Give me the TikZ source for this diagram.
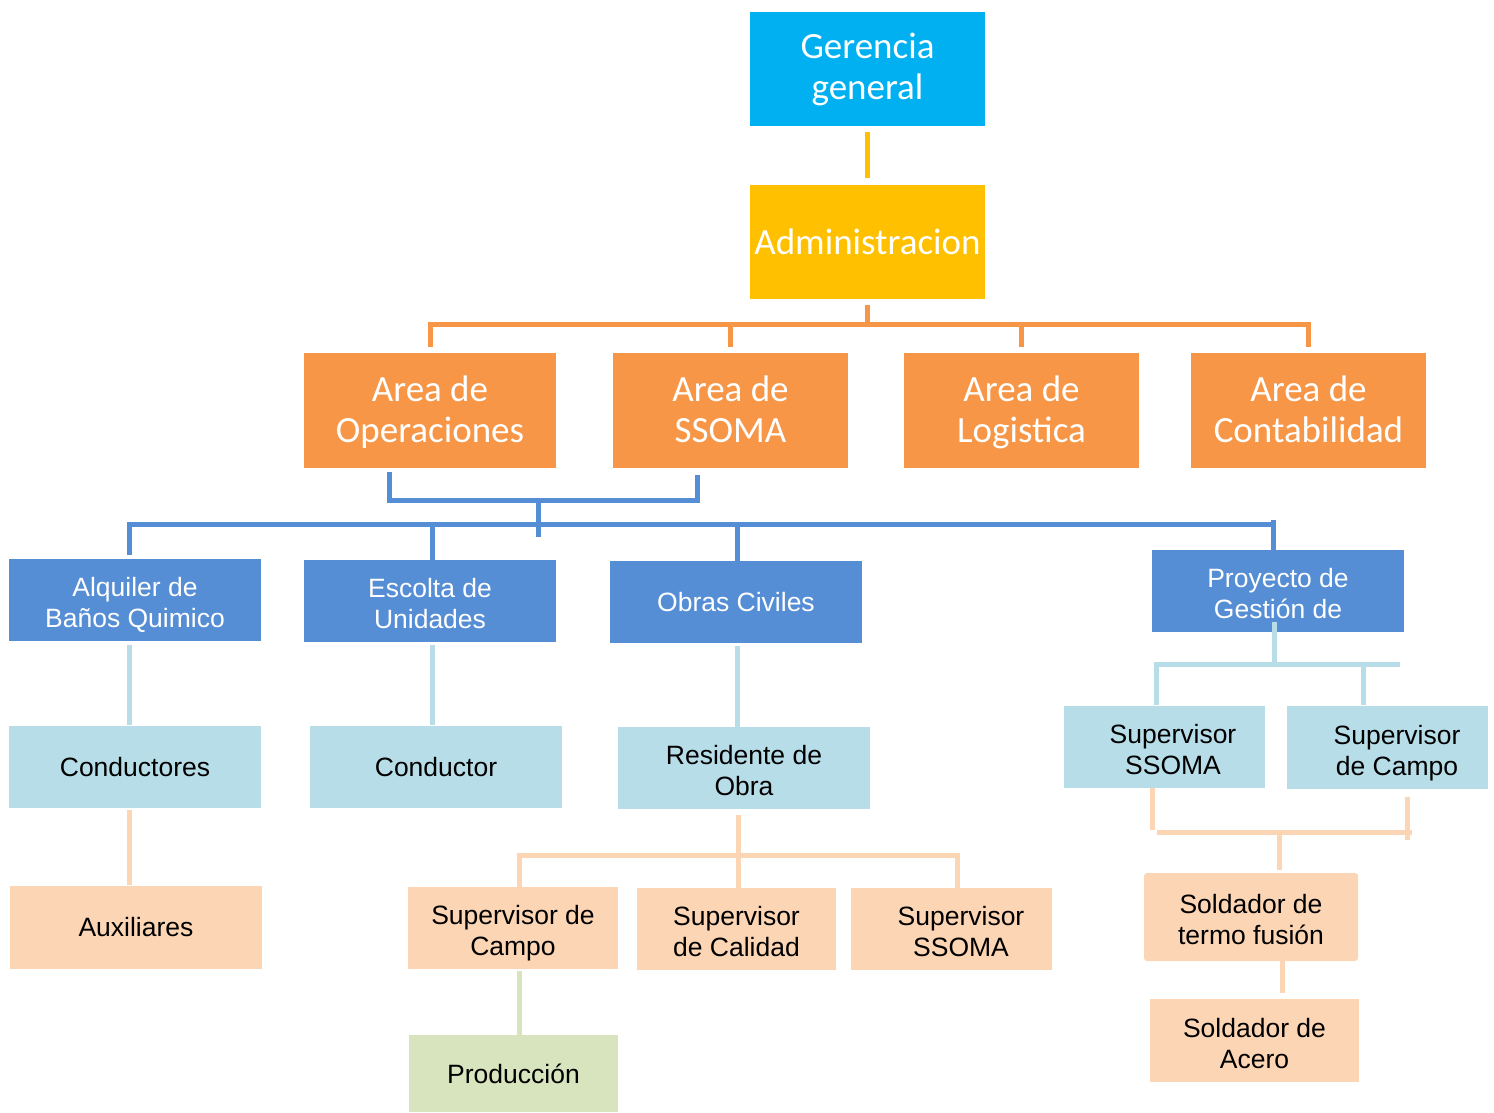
\documentclass[tikz,border=0pt]{standalone}
\usepackage{fontspec}
\setmainfont{Liberation Sans}
\newfontfamily\calfont{Carlito}
\usetikzlibrary{calc}
\definecolor{cgg}{HTML}{00B0F0}
\definecolor{cadm}{HTML}{FFC000}
\definecolor{corg}{HTML}{F79646}
\definecolor{cblu}{HTML}{558ED5}
\definecolor{clbl}{HTML}{B7DEE8}
\definecolor{cpch}{HTML}{FCD5B4}
\definecolor{cgrn}{HTML}{D7E4BD}
\newcommand\tup{\rule{0pt}{30pt}}
\newcommand\tdn{\rule[-6pt]{0pt}{6pt}}
\newcommand\tupo{\rule{0pt}{31pt}}
\newcommand\tdno{\rule[-9pt]{0pt}{9pt}}
\begin{document}
\begin{tikzpicture}[x=1pt,y=-1pt,
  box/.style={inner sep=0pt,align=center,anchor=center},
  topbox/.style={box,font=\calfont\fontsize{37}{41}\selectfont,text=white},
  lowbox/.style={box,font=\fontsize{26.5}{31}\selectfont},
  sz/.style 2 args={minimum width=#1pt,minimum height=#2pt},
  yline/.style={line width=5pt,cadm},
  oline/.style={line width=5pt,corg},
  bline/.style={line width=5pt,cblu},
  lbline/.style={line width=5pt,clbl},
  pline/.style={line width=5pt,cpch},
  gline/.style={line width=5pt,cgrn}
]
\useasboundingbox (0,0) rectangle (1494,1112);
% top levels
\node[topbox,fill=cgg,sz={235}{114}] (gg) at (867.5,69) {\rule{0pt}{28pt}Gerencia\\general\tdno};
\node[topbox,fill=cadm,sz={235}{114}] (adm) at (867.5,242) {Administracion};
% areas
\node[topbox,fill=corg,sz={252}{115}] (ops) at (430,410.5) {\tupo Area de\\Operaciones\tdno};
\node[topbox,fill=corg,sz={235}{115}] (ssoma) at (730.5,410.5) {\tupo Area de\\SSOMA\tdno};
\node[topbox,fill=corg,sz={235}{115}] (log) at (1021.5,410.5) {\tupo Area de\\Logistica\tdno};
\node[topbox,fill=corg,sz={235}{115}] (cont) at (1308.5,410.5) {\tupo Area de\\Contabilidad\tdno};
% blue
\node[lowbox,fill=cblu,text=white,sz={252}{82}] (alq) at (135,600) {\tup Alquiler de\\Baños Quimico\tdn};
\node[lowbox,fill=cblu,text=white,sz={252}{82}] (esc) at (430,601) {\tup Escolta de\\Unidades\tdn};
\node[lowbox,fill=cblu,text=white,sz={252}{82}] (obr) at (736,602) {Obras Civiles};
\node[lowbox,fill=cblu,text=white,sz={252}{82}] (proy) at (1278,591) {\tup Proyecto de\\Gestión de\tdn};
% light blue
\node[lowbox,fill=clbl,sz={252}{82}] (cond) at (135,767) {Conductores};
\node[lowbox,fill=clbl,sz={252}{82}] (cond2) at (436,767) {Conductor};
\node[lowbox,fill=clbl,sz={252}{82}] (res) at (744,768) {\tup Residente de\\Obra\tdn};
\node[lowbox,fill=clbl,sz={201}{82}] (sups) at (1164.5,747) {\tup\hspace*{17pt}Supervisor\\\hspace*{17pt}SSOMA\tdn};
\node[lowbox,fill=clbl,sz={201}{83}] (supc) at (1387.5,747.5) {\tup\hspace*{19pt}Supervisor\\\hspace*{19pt}de Campo\tdn};
% peach
\node[lowbox,fill=cpch,sz={252}{83}] (aux) at (136,927.5) {Auxiliares};
\node[lowbox,fill=cpch,sz={210}{82}] (spc) at (513,928) {\tup Supervisor de\\Campo\tdn};
\node[lowbox,fill=cpch,sz={199}{82}] (spq) at (736.5,929) {\tup Supervisor\\de Calidad\tdn};
\node[lowbox,fill=cpch,sz={201}{82}] (sps) at (951.5,929) {\tup\hspace*{19pt}Supervisor\\\hspace*{19pt}SSOMA\tdn};
\node[lowbox,fill=cpch,sz={214}{88},rounded corners=3pt] (sdt) at (1251,917) {\tup Soldador de\\termo fusión\tdn};
\node[lowbox,fill=cpch,sz={209}{83}] (sda) at (1254.5,1040.5) {\tup Soldador de\\Acero\tdn};
% green
\node[lowbox,fill=cgrn,sz={209}{77}] (prod) at (513.5,1073.5) {Producción};
% connectors top
\draw[yline] ($(gg.south)+(0,6)$) -- ($(adm.north)+(0,-7)$);
\coordinate (obus) at ($(adm.south)+(0,26)$);
\draw[oline] ($(adm.south)+(0,6)$) -- (obus);
\draw[oline] ($(ops.north)+(0,-6)$) |- ($(cont.north)+(0,-28)$) -- ($(cont.north)+(0,-6)$);
\draw[oline] ($(ssoma.north)+(0,-6)$) -- (ssoma.north |- obus);
\draw[oline] ($(log.north)+(0,-6)$) -- (log.north |- obus);
% blue connectors
\draw[bline] ($(ops.south)+(-41,4)$) |- ($(ssoma.south)+(-33.5,32)$) -- ($(ssoma.south)+(-33.5,7)$);
\coordinate (bj) at ($(ops.south)+(108,32)$);
\draw[bline] (bj) -- ++(0,37);
\draw[bline] ($(alq.north)+(-6,-4)$) |- ($(proy.north)+(-5,-25)$);
\draw[bline] ($(proy.north)+(-5,-30)$) -- ($(proy.north)+(-5,0)$);
\draw[bline] ($(esc.north)+(2,0)$) -- ($(esc.north)+(2,-35)$);
\draw[bline] ($(obr.north)+(1,0)$) -- ($(obr.north)+(1,-36)$);
% light blue connectors
\draw[lbline] ($(alq.south)+(-6,4)$) -- ($(cond.north)+(-6,-1)$);
\draw[lbline] ($(esc.south)+(2,3)$) -- ($(cond2.north)+(-4,-1)$);
\draw[lbline] ($(obr.south)+(1,3)$) -- ($(res.north)+(-7,0)$);
\draw[lbline] ($(proy.south)+(-4,-10)$) -- ($(proy.south)+(-4,33)$);
\draw[lbline] ($(sups.north)+(-8.5,-1)$) |- ($(supc.north)+(12.5,-41)$);
\draw[lbline] ($(supc.north)+(-24.5,-1)$) -- ($(supc.north)+(-24.5,-41)$);
% peach connectors
\draw[pline] ($(cond.south)+(-6,2)$) -- ($(aux.north)+(-7,-1)$);
\draw[pline] ($(res.south)+(-6,6)$) -- ($(spq.north)+(1.5,0)$);
\draw[pline] ($(spc.north)+(6,0)$) |- ($(sps.north)+(5.5,-32)$) -- ($(sps.north)+(5.5,0)$);
\draw[pline] ($(sups.south)+(-12.5,0)$) -- ($(sups.south)+(-12.5,42)$);
\draw[pline] ($(sups.south)+(-7.5,44)$) -- ($(supc.south)+(24.5,43)$);
\draw[pline] ($(supc.south)+(20,8)$) -- ($(supc.south)+(20,51)$);
\draw[pline] ($(sdt.north)+(28,-41)$) -- ($(sdt.north)+(28,-3)$);
\draw[pline] ($(sdt.south)+(31,0)$) -- ($(sda.north)+(27.5,-6)$);
% green connector
\draw[gline] ($(spc.south)+(6,2)$) -- ($(prod.north)+(5.5,0)$);
\end{tikzpicture}
\end{document}
